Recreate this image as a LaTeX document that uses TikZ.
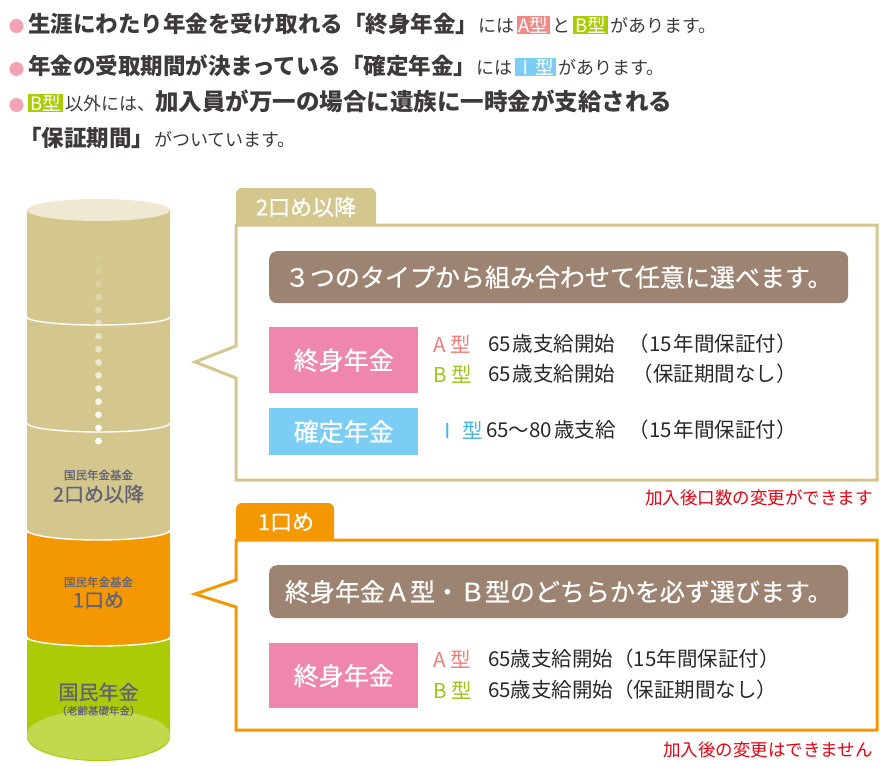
\documentclass[tikz,border=0pt]{standalone}
\usepackage{fontspec}
\setmainfont{Noto Sans CJK JP}
\newfontfamily\medfont{Noto Sans CJK JP}[FakeBold=0.7]
\usetikzlibrary{positioning}

\definecolor{inkgray}{HTML}{3E3A39}
\definecolor{rowink}{HTML}{2A2828}
\definecolor{cylgray}{HTML}{62627A}
\definecolor{bulletpink}{HTML}{F4A3B4}
\definecolor{sandC}{HTML}{D4C78D}
\definecolor{sandtop}{HTML}{EFE9D3}
\definecolor{orangeC}{HTML}{F39800}
\definecolor{leafC}{HTML}{ABCB06}
\definecolor{leaftop}{HTML}{C3D94D}
\definecolor{pinkC}{HTML}{EF86AD}
\definecolor{skyC}{HTML}{7CCDF3}
\definecolor{mochaC}{HTML}{9D8371}
\definecolor{typeAC}{HTML}{F17D7B}
\definecolor{typeBC}{HTML}{A0C31A}
\definecolor{typeIC}{HTML}{46B5E6}
\definecolor{tagAC}{HTML}{F08A88}
\definecolor{noteC}{HTML}{E60012}

\newcommand{\fsz}[1]{\fontsize{#1}{#1}\selectfont}
\newcommand{\leadbig}[1]{{\fsz{22.5}\bfseries#1}}
\newcommand{\leadsmall}[1]{{\fsz{18}#1}}
\newcommand{\typetag}[2]{{\fsz{18.5}\setlength{\fboxsep}{1pt}\hspace{2.5pt}\colorbox{#1}{\hspace{1pt}\textcolor{white}{#2}\hspace{1pt}}\hspace{2.5pt}}}

\begin{document}
\begin{tikzpicture}[x=1pt,y=-1pt,
    lead/.style={anchor=base west,inner sep=0pt,text=inkgray},
    seam/.style={white,line width=1.4pt},
    cyltext/.style={text=cylgray,inner sep=0pt},
    callout/.style={fill=white,line width=3pt,line join=miter},
    tabtext/.style={text=white,inner sep=0pt,font=\fsz{22}\medfont},
    banner/.style={fill=mochaC,rounded corners=8pt,text=white,inner sep=0pt,
        minimum width=579pt,font=\fsz{25}\medfont},
    kind/.style={text=white,inner sep=0pt,minimum width=149pt,font=\fsz{25}\medfont},
    typetxt/.style={inner sep=0pt,anchor=west,font=\fsz{20.5}},
    rowtxt/.style={inner sep=0pt,anchor=west,text=rowink,font=\fsz{20.5}},
    note/.style={inner sep=0pt,anchor=east,text=noteC,font=\fsz{17.5}}]
  \useasboundingbox (0,0) rectangle (880,765);

  % lead text
  \foreach \y in {26,69,105}
    \fill[bulletpink] (16.5,\y) circle (7);
  \node[lead] (lineA) at (28,32.5) {\leadbig{生涯にわたり年金を受け取れる「終身年金」}\leadsmall{には}\typetag{tagAC}{A型}\leadsmall{と}\typetag{leafC}{B型}\leadsmall{があります。}};
  \node[lead] (lineB) at (28,74.5) {\leadbig{年金の受取期間が決まっている「確定年金」}\leadsmall{には}\typetag{skyC}{Ⅰ型}\leadsmall{があります。}};
  \node[lead] (lineC) at (25.5,110.5) {\typetag{leafC}{B型}\leadsmall{以外には、}{\fsz{23.5}\bfseries 加入員が万一の場合に遺族に一時金が支給される}};
  \node[lead] (lineD) at (19,146.5) {\leadbig{「保証期間」}\leadsmall{がついています。}};

  % cylinder
  \fill[leafC] (27,640) -- (27,737) arc[start angle=180,end angle=0,x radius=71.5,y radius=24] -- (170,640) -- cycle;
  \fill[leaftop] (98.5,735) ellipse [x radius=71.5,y radius=25];
  \fill[orangeC] (27,533) -- (27,637) arc[start angle=180,end angle=0,x radius=71.5,y radius=9] -- (170,533) -- cycle;
  \fill[sandC] (27,210) -- (27,530) arc[start angle=180,end angle=0,x radius=71.5,y radius=10] -- (170,210) -- cycle;
  \fill[sandtop] (98.5,210) ellipse [x radius=71.5,y radius=11];
  \draw[seam] (27,317) arc[start angle=180,end angle=0,x radius=71.5,y radius=8];
  \draw[seam] (27,423) arc[start angle=180,end angle=0,x radius=71.5,y radius=9];
  \draw[seam] (27,530) arc[start angle=180,end angle=0,x radius=71.5,y radius=10];
  \draw[seam] (27,637) arc[start angle=180,end angle=0,x radius=71.5,y radius=9];
  \foreach \i in {0,...,14}
    \fill[white,opacity={1-\i*0.066}] (98.5,{441-\i*13.1}) circle (3.4);

  \node[cyltext,font=\fsz{11.5}\medfont] (fund2cap) at (98.5,475) {国民年金基金};
  \node[cyltext,font=\fsz{20}\medfont,below=4pt of fund2cap] (fund2) {2口め以降};
  \node[cyltext,font=\fsz{11.5}\medfont] (fund1cap) at (98.5,582) {国民年金基金};
  \node[cyltext,font=\fsz{20}\medfont,below=4pt of fund1cap] (fund1) {1口め};
  \node[cyltext,font=\fsz{20}\medfont] (basic) at (98.5,692) {国民年金};
  \node[cyltext,font=\fsz{10.5}\medfont,below=4pt of basic] (basiccap) {（老齢基礎年金）};

  % second and later units
  \fill[sandC,rounded corners=6pt] (236,188) rectangle (376,236);
  \filldraw[callout,draw=sandC] (236,225) -- (877,225) -- (877,480) -- (236,480)
      -- (236,378) -- (195,362) -- (236,346) -- cycle;
  \node[tabtext] (tabupper) at (306,207) {2口め以降};
  \node[banner,minimum height=52pt,anchor=north west] (pickany) at (269,251) {３つのタイプから組み合わせて任意に選べます。};
  \node[kind,fill=pinkC,minimum height=66pt,anchor=north west] (life2) at (269,327) {終身年金};
  \node[kind,fill=skyC,minimum height=47pt,anchor=north west] (fixed2) at (269,408) {確定年金};
  \node[typetxt,text=typeAC] (tA2) at (433,344) {A 型};
  \node[rowtxt] (sA2) at (488,344) {65\kern2pt 歳支給開始};
  \node[rowtxt,anchor=east] (gA2) at (797,344) {（15\kern2pt 年間保証付）};
  \node[typetxt,text=typeBC] (tB2) at (433,374) {B 型};
  \node[rowtxt] (sB2) at (488,374) {65\kern2pt 歳支給開始};
  \node[rowtxt,anchor=east] (gB2) at (797,374) {（保証期間なし）};
  \node[typetxt,text=typeIC] (tI2) at (437,430) {Ⅰ 型};
  \node[rowtxt] (sI2) at (486,430) {65～80\kern2pt 歳支給};
  \node[rowtxt,anchor=east] (gI2) at (797,430) {（15\kern2pt 年間保証付）};
  \node[note] (note2) at (873,498) {加入後口数の変更ができます};

  % first unit
  \fill[orangeC,rounded corners=6pt] (236,503) rectangle (334,550);
  \filldraw[callout,draw=orangeC] (236,540) -- (877,540) -- (877,730) -- (236,730)
      -- (236,607) -- (195,594) -- (236,580) -- cycle;
  \node[tabtext] (tablower) at (286,522) {1口め};
  \node[banner,minimum height=53pt,anchor=north west] (pickone) at (269,565) {終身年金Ａ型・Ｂ型のどちらかを必ず選びます。};
  \node[kind,fill=pinkC,minimum height=65pt,anchor=north west] (life1) at (269,643) {終身年金};
  \node[typetxt,text=typeAC] (tA1) at (433,659) {A 型};
  \node[rowtxt] (sA1) at (488,659) {65歳支給開始（15年間保証付）};
  \node[typetxt,text=typeBC] (tB1) at (433,690) {B 型};
  \node[rowtxt] (sB1) at (488,690) {65歳支給開始（保証期間なし）};
  \node[note] (note1) at (873,750) {加入後の変更はできません};
\end{tikzpicture}
\end{document}
